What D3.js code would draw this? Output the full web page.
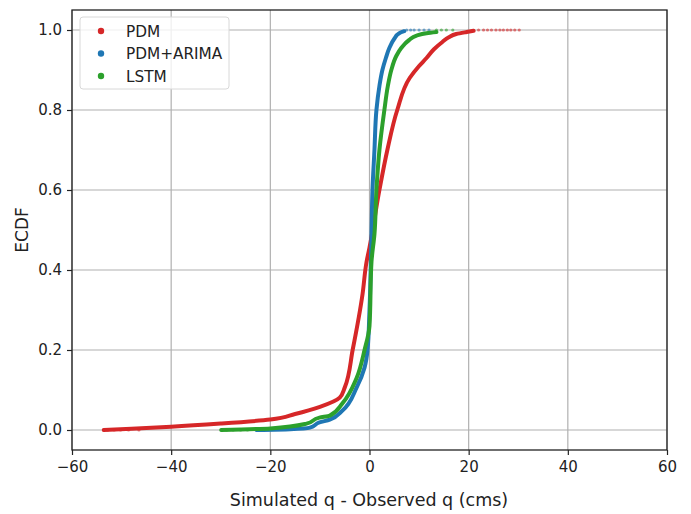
<!DOCTYPE html>
<html><head><meta charset="utf-8">
<script src="https://cdn.jsdelivr.net/npm/d3@7"></script>
<style>
body{margin:0;background:#fff;}
text{font-family:"DejaVu Sans",sans-serif;fill:#222;}
</style></head>
<body><svg id="c" width="691" height="514"></svg>
<script>
// Data
const seriesNames = ["PDM", "PDM+ARIMA", "LSTM"];
const seriesColors = ["#d62728", "#1f77b4", "#2ca02c"];
// x: simulated - observed (cms), p: ECDF
const pdmX = [-53.6,-48,-40,-30,-20,-15,-10,-6,-5,-3.4,-1.4,-0.6,0,2,3.6,5.6,8.1,10,11.5,13,14.7,16,17.5,19.6,21];
const pdmP = [0,0.003,0.008,0.016,0.026,0.04,0.058,0.081,0.106,0.2,0.34,0.42,0.456,0.6,0.7,0.8,0.88,0.91,0.93,0.952,0.97,0.982,0.99,0.995,0.998];
const arimaX = [-22.8,-16,-12,-10.1,-8,-5.5,-2.6,-1,-0.4,0,0.4,0.6,1.0,1.4,2.0,2.6,3.3,4,5,6,7];
const arimaP = [0,0.002,0.006,0.019,0.026,0.048,0.106,0.156,0.2,0.3,0.49,0.6,0.7,0.8,0.86,0.9,0.93,0.955,0.978,0.992,0.997];
const lstmX = [-29.9,-20,-12.7,-10.1,-8,-5.5,-2.6,-1,0,0.4,1,1.4,2,3,3.7,4.4,5.4,6.4,8,9.5,11.5,13.5];
const lstmP = [0,0.004,0.016,0.031,0.036,0.066,0.13,0.2,0.26,0.42,0.49,0.6,0.7,0.8,0.86,0.9,0.935,0.955,0.975,0.986,0.992,0.995];
// sparse scatter points in the tails (x values)
const pdmTailHigh = [22,23,23.8,24.6,25.5,26.3,27,27.8,28.5,29.3,30.2];
const pdmTailLow = [-53.6,-52.8,-51.5,-50.2,-48.6,-46.5];
const arimaTailHigh = [7.5,8.3,9,10,11,12];
const lstmTailHigh = [13.5,14.5,15.5,16.8];
const lstmTailLow = [-29.9,-28.8,-27.5,-26,-24.6];
const xTicks = [-60,-40,-20,0,20,40,60];
const yTicks = [0.0,0.2,0.4,0.6,0.8,1.0];

const svg = d3.select("#c");
const L = 72, R = 667, T = 10, B = 450;
const x = d3.scaleLinear().domain([-60, 60]).range([L, R]);
const y = d3.scaleLinear().domain([-0.05, 1.05]).range([B, T]);

// grid
const g = svg.append("g");
g.selectAll("line.gx").data(xTicks).join("line")
  .attr("x1", d => x(d)).attr("x2", d => x(d)).attr("y1", T).attr("y2", B)
  .attr("stroke", "#b0b0b0").attr("stroke-width", 1.2);
g.selectAll("line.gy").data(yTicks).join("line")
  .attr("y1", d => y(d)).attr("y2", d => y(d)).attr("x1", L).attr("x2", R)
  .attr("stroke", "#b0b0b0").attr("stroke-width", 1.2);

const seriesX = [pdmX, arimaX, lstmX];
const seriesP = [pdmP, arimaP, lstmP];
const tails = [
  [[pdmTailHigh, 1.0], [pdmTailLow, 0.0]],
  [[arimaTailHigh, 1.0]],
  [[lstmTailHigh, 1.0], [lstmTailLow, 0.0]]
];
seriesNames.forEach((n, i) => {
  const pts = seriesX[i].map((v, j) => [v, seriesP[i][j]]).sort((a, b) => a[1] - b[1]);
  svg.append("path").datum(pts)
    .attr("d", d3.line().x(d => x(d[0])).y(d => y(d[1])).curve(d3.curveMonotoneY))
    .attr("fill", "none").attr("stroke", seriesColors[i])
    .attr("stroke-width", 4).attr("stroke-linejoin", "round").attr("stroke-linecap", "round");
  tails[i].forEach(([arr, p]) => {
    svg.append("g").selectAll("circle").data(arr).join("circle")
      .attr("cx", d => x(d)).attr("cy", y(p)).attr("r", 1.6)
      .attr("fill", seriesColors[i]).attr("opacity", 0.6);
  });
});

// axes
const xa = svg.append("g").attr("transform", `translate(0,${B})`)
  .call(d3.axisBottom(x).tickValues(xTicks).tickSize(5).tickPadding(6)
    .tickFormat(d => d < 0 ? "\u2212" + Math.abs(d) : d));
const ya = svg.append("g").attr("transform", `translate(${L},0)`)
  .call(d3.axisLeft(y).tickValues(yTicks).tickSize(5).tickPadding(5).tickFormat(d3.format(".1f")));
[xa, ya].forEach(a => {
  a.select(".domain").remove();
  a.selectAll("line").attr("stroke", "#222").attr("stroke-width", 1.2);
  a.selectAll("text").attr("font-size", 15).attr("font-family", "DejaVu Sans").attr("fill", "#222");
});
svg.append("rect").attr("x", L).attr("y", T).attr("width", R - L).attr("height", B - T)
  .attr("fill", "none").attr("stroke", "#222").attr("stroke-width", 1.3);

// labels
svg.append("text").attr("x", 369).attr("y", 506).attr("text-anchor", "middle")
  .attr("font-size", 17.5).text("Simulated q - Observed q (cms)");
svg.append("text").attr("transform", `translate(28,${(T + B) / 2}) rotate(-90)`)
  .attr("text-anchor", "middle").attr("font-size", 17).text("ECDF");

// legend
const lg = svg.append("g");
lg.append("rect").attr("x", 80).attr("y", 17).attr("width", 149).attr("height", 72)
  .attr("rx", 3).attr("fill", "#fff").attr("fill-opacity", 0.8)
  .attr("stroke", "#d8d8d8").attr("stroke-width", 1);
seriesNames.forEach((n, i) => {
  const yy = 31 + i * 22.5;
  lg.append("circle").attr("cx", 101).attr("cy", yy).attr("r", 3.2).attr("fill", seriesColors[i]);
  lg.append("text").attr("x", 126).attr("y", yy + 5.5).attr("font-size", 15.3).text(n);
});
</script></body></html>
